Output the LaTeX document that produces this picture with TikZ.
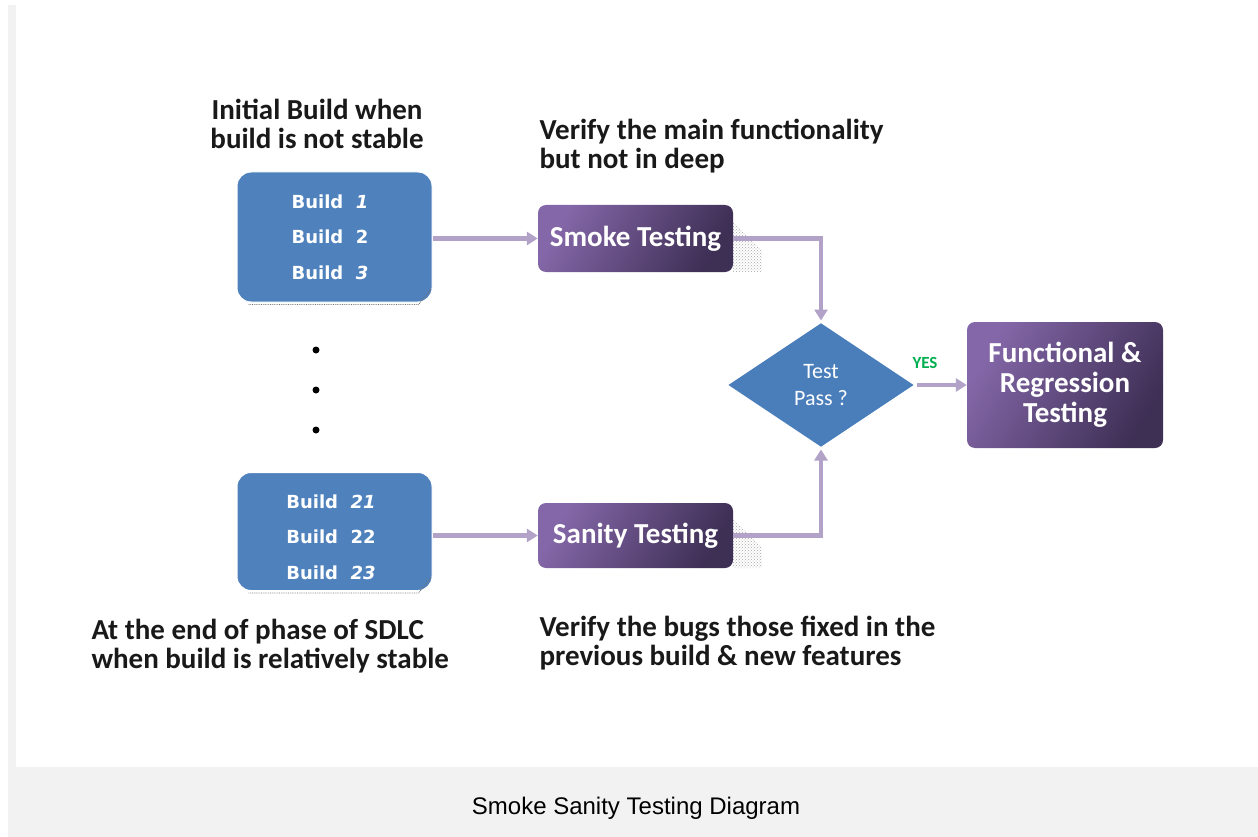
\documentclass[tikz,border=0pt]{standalone}
\usepackage{fontspec}
\setmainfont{Carlito}
\newfontfamily\tahfont{DejaVu Sans}
\newfontfamily\capfont{Liberation Sans}
\usetikzlibrary{shapes.geometric,arrows.meta,patterns}
\definecolor{pagegray}{HTML}{F2F2F2}
\definecolor{boxblue}{HTML}{4F81BD}
\definecolor{diablue}{HTML}{4A7EBB}
\definecolor{purA}{HTML}{8467A8}
\definecolor{purB}{HTML}{3E2F55}
\definecolor{arrowpur}{HTML}{B3A2C7}
\definecolor{yesgreen}{HTML}{00B050}
\tikzset{
  buildbox/.style={draw=white, line width=1pt, fill=boxblue, rounded corners=14pt,
    minimum width=195pt},
  buildtext/.style={text=white, align=center, inner sep=0pt, font=\tahfont\bfseries\fontsize{18}{35.5}\selectfont},
  boxedge/.style={draw=black!55, densely dotted, line width=0.8pt},
  testbox/.style={draw=none, rounded corners=8pt, left color=purA, right color=purB, shading angle=60,
    text=white, align=center, font=\bfseries\fontsize{29}{30}\selectfont},
  note/.style={align=left, font=\bfseries\fontsize{29}{29.5}\selectfont, text=black!90},
  flow/.style={draw=arrowpur, line width=4.5pt, -{Triangle[length=11pt,width=13pt]}},
  dotmark/.style={circle, fill=black, inner sep=0pt, minimum size=7pt},
}
\begin{document}
\begin{tikzpicture}[x=1pt,y=-1pt]
\useasboundingbox (0,0) rectangle (1258,837);
\fill[pagegray] (8,5) rectangle (1258,837);
\fill[white] (16,5) rectangle (1258,767);

% notes
\node[note, align=center, anchor=center] (n1) at (317,124) {Initial Build when\\build is not stable};
\node[note, anchor=west] (n2) at (536,146) {Verify the main functionality\\but not in deep};
\node[note, anchor=west] (n3) at (88,646) {At the end of phase of SDLC\\when build is relatively stable};
\node[note, anchor=west] (n4) at (536,643) {Verify the bugs those fixed in the\\previous build \& new features};

% build boxes
\node[buildbox, minimum height=130pt] (b1) at (334.5,237) {};
\node[buildtext] (b1t) at (330,237) {Build~~\textit{1}\\Build~~2\\Build~~\textit{3}};
\node[buildbox, minimum height=118pt] (b2) at (334.5,531.5) {};
\node[buildtext] (b2t) at (331,537) {Build~~\textit{21}\\Build~~22\\Build~~\textit{23}};
\draw[boxedge] ([xshift=12pt,yshift=-2pt]b1.south west) -- ([xshift=-14pt,yshift=-2pt]b1.south east)
  -- ([xshift=-1pt,yshift=14pt]b1.south east);
\draw[boxedge] ([xshift=12pt,yshift=-2pt]b2.south west) -- ([xshift=-14pt,yshift=-2pt]b2.south east)
  -- ([xshift=-1pt,yshift=14pt]b2.south east);

% dots
\node[dotmark] (d1) at (316,350) {};
\node[dotmark] (d2) at (316,390) {};
\node[dotmark] (d3) at (316,430) {};

% shadows of test boxes
\fill[pattern=crosshatch dots, pattern color=black!35] (733,222) -- (762,250) -- (762,272) -- (733,272) -- cycle;
\fill[pattern=crosshatch dots, pattern color=black!35] (733,519) -- (762,547) -- (762,568) -- (733,568) -- cycle;

% test boxes
\node[testbox, minimum width=195pt, minimum height=67pt] (smoke) at (635.5,238.5) {Smoke Testing};
\node[testbox, minimum width=195pt, minimum height=65pt] (sanity) at (635.5,535.5) {Sanity Testing};
\node[testbox, minimum width=196pt, minimum height=126pt] (func) at (1065,385) {Functional \&\\Regression\\Testing};

% decision
\node[diamond, draw=white, line width=2pt, fill=diablue, minimum width=190pt, minimum height=127pt,
  inner sep=0pt, text=white, align=center, font=\fontsize{22}{27}\selectfont] (dec) at (821,385) {Test\\Pass~?};

% connectors
\draw[flow] (b1.east |- smoke.west) -- (smoke.west);
\draw[flow] (b2.east |- sanity.west) -- (sanity.west);
\draw[flow] (smoke.east) -| (dec.north);
\draw[flow] (sanity.east) -| (dec.south);
\draw[flow] (dec.east) -- (func.west);
\node[text=yesgreen, font=\bfseries\fontsize{17}{20}\selectfont] (yes) at (925,363) {YES};

% caption
\node[font=\capfont\fontsize{24}{26}\selectfont, text=black] (cap) at (636,808) {Smoke Sanity Testing Diagram};
\end{tikzpicture}
\end{document}
